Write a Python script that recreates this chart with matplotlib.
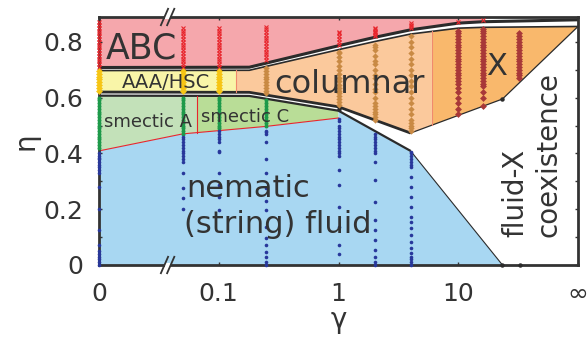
import numpy as np
import matplotlib.pyplot as plt

INF = np.inf

# ---- phase boundaries (gamma, eta) ----
upper_g = [0, 0.18, 1, 2, 4, 10, 16, INF]
upper_top = [0.708, 0.709, 0.786, 0.816, 0.843, 0.867, 0.872, 0.879]
upper_bot = [0.697, 0.698, 0.772, 0.801, 0.828, 0.849, 0.852, 0.855]

lowtop_g = [0, 0.18, 1, 4, 23.4, INF]
lowtop = [0.620, 0.619, 0.567, 0.473, 0.595, 0.855]

lowbot_g = [0, 0.18, 1, 4, 23.4]
lowbot = [0.607, 0.606, 0.553, 0.409, 0.0]

red_g = [0, 0.05, 0.25, 1]
red_eta = [0.409, 0.470, 0.497, 0.527]

g_aaa_col = 0.14
g_col_x = 6
g_sma_smc = 0.066
g_abc_end = 16
eta_top = 0.889

# ---- simulated state points, eta per gamma column ----
abc_pts = {
    0: [0.71, 0.72, 0.73, 0.74, 0.75, 0.76, 0.77, 0.78, 0.79, 0.80, 0.81, 0.82, 0.83, 0.84, 0.85, 0.86, 0.87],
    0.05: [0.71, 0.72, 0.73, 0.74, 0.75, 0.76, 0.77, 0.78, 0.79, 0.80, 0.81, 0.82, 0.83, 0.84, 0.85],
    0.1: [0.71, 0.72, 0.73, 0.74, 0.75, 0.76, 0.77, 0.78, 0.79, 0.80, 0.81, 0.82, 0.83, 0.84, 0.85],
    0.25: [0.735, 0.745, 0.755, 0.765, 0.775, 0.785, 0.795, 0.805, 0.815, 0.825, 0.835, 0.845, 0.853],
    1: [0.79, 0.80, 0.81, 0.82, 0.83, 0.835],
    2: [0.82, 0.825, 0.83, 0.835, 0.84, 0.845, 0.85],
    4: [0.849, 0.855, 0.862, 0.869],
    10: [0.872],
    16: [0.88],
}
aaa_pts = {
    0: [0.625, 0.635, 0.645, 0.655, 0.665, 0.675, 0.685, 0.695],
    0.05: [0.625, 0.635, 0.645, 0.655, 0.665, 0.675, 0.685, 0.695],
    0.1: [0.625, 0.635, 0.645, 0.655, 0.665, 0.675, 0.685, 0.695],
}
smectic_pts = {
    0: [0.42, 0.43, 0.44, 0.45, 0.46, 0.47, 0.48, 0.49, 0.50, 0.51, 0.52, 0.53, 0.54, 0.55, 0.56, 0.57, 0.58, 0.59, 0.60],
    0.05: [0.47, 0.48, 0.49, 0.50, 0.51, 0.52, 0.53, 0.54, 0.55, 0.56, 0.57, 0.58, 0.59, 0.60],
    0.1: [0.49, 0.50, 0.51, 0.52, 0.53, 0.54, 0.55, 0.56, 0.57, 0.58, 0.59, 0.60],
    0.25: [0.50, 0.51, 0.52, 0.53, 0.54, 0.55, 0.56, 0.57, 0.58, 0.59],
}
nematic_pts = {
    0: [0.40, 0.39, 0.385, 0.38, 0.37, 0.36, 0.35, 0.34, 0.33, 0.28, 0.20, 0.125, 0.07, 0.05, 0.04, 0.03, 0.02, 0.01, 0.0],
    0.05: [0.46, 0.45, 0.44, 0.43, 0.42, 0.41, 0.40, 0.39, 0.38, 0.37, 0.33, 0.275, 0.24, 0.20],
    0.1: [0.48, 0.47, 0.46, 0.45, 0.44, 0.41, 0.405, 0.33, 0.287, 0.244, 0.197],
    0.25: [0.48, 0.475, 0.47, 0.44, 0.38, 0.33, 0.275, 0.23, 0.197, 0.136, 0.097, 0.072, 0.047, 0.029, 0.011, 0.0],
    1: [0.525, 0.515, 0.50, 0.49, 0.48, 0.47, 0.46, 0.45, 0.44, 0.43, 0.42, 0.41, 0.40, 0.39, 0.34, 0.287, 0.208, 0.136, 0.072, 0.039],
    2: [0.47, 0.46, 0.45, 0.44, 0.43, 0.42, 0.41, 0.40, 0.37, 0.305, 0.226, 0.161, 0.125, 0.09, 0.054, 0.029, 0.011, 0.0],
    4: [0.405, 0.40, 0.39, 0.38, 0.37, 0.36, 0.35, 0.315, 0.28, 0.244, 0.208, 0.172, 0.154, 0.133, 0.108, 0.082,
        0.061, 0.043, 0.03, 0.02, 0.01, 0.0],
}
columnar_pts = {
    0.25: [0.615, 0.625, 0.635, 0.645, 0.655, 0.665, 0.675, 0.685, 0.695, 0.705],
    1: [0.575, 0.585, 0.595, 0.605, 0.615, 0.625, 0.635, 0.645, 0.66, 0.67, 0.685, 0.70, 0.715, 0.73, 0.745, 0.76, 0.765],
    2: [0.52, 0.53, 0.54, 0.55, 0.56, 0.57, 0.58, 0.60, 0.62, 0.63, 0.65, 0.67, 0.68, 0.70, 0.72, 0.73, 0.75, 0.77, 0.78, 0.79],
    4: [0.48, 0.49, 0.50, 0.51, 0.52, 0.54, 0.56, 0.58, 0.60, 0.62, 0.64, 0.66, 0.68, 0.70, 0.72, 0.74, 0.76, 0.78,
        0.80, 0.82],
}
x_pts = {
    10: [0.54, 0.56, 0.58, 0.60, 0.62, 0.635, 0.65, 0.66, 0.67, 0.68, 0.69, 0.70, 0.71, 0.72, 0.73, 0.74, 0.75,
         0.76, 0.77, 0.78, 0.79, 0.80, 0.81, 0.82, 0.83, 0.84],
    16: [0.57, 0.60, 0.62, 0.64, 0.65, 0.66, 0.67, 0.68, 0.69, 0.70, 0.71, 0.72, 0.73, 0.74, 0.75, 0.76, 0.77,
         0.78, 0.79, 0.80, 0.81, 0.82, 0.83, 0.84, 0.845],
    32: [0.67, 0.68, 0.69, 0.70, 0.71, 0.72, 0.73, 0.74, 0.75, 0.76, 0.77, 0.78, 0.79, 0.80, 0.81, 0.82, 0.83],
}
vertex_g = [23.4, 23.4, 33, 1]
vertex_eta = [0.595, 0.0, 0.0, 0.56]

xtick_g = [0, 0.1, 1, 10, INF]
xtick_labels = ['0', '0.1', '1', '10', '∞']
break_g = [0.0374, 3980]

TXT = '#333333'


def gpos(g):
    """gamma -> position on the broken log axis (0 at gamma=0, 4 at infinity)"""
    g = np.atleast_1d(np.asarray(g, dtype=float))
    u = np.zeros_like(g)
    ok = (g > 0) & np.isfinite(g)
    u[ok] = np.log10(g[ok]) + 2
    u[np.isinf(g)] = 4
    return u


def piece(bg, be, g0, g1):
    ub = gpos(bg)
    u0, u1 = gpos(g0)[0], gpos(g1)[0]
    inner = (ub > u0) & (ub < u1)
    us = np.concatenate([[u0], ub[inner], [u1]])
    return us, np.interp(us, ub, be)


def region(ax, top, bot, color):
    ut, et = top
    ub, eb = bot
    ax.fill(np.concatenate([ut, ub[::-1]]), np.concatenate([et, eb[::-1]]),
            color=color, lw=0, zorder=1)


fig = plt.figure(figsize=(5.88, 3.39), dpi=100)
ax = fig.add_axes([99 / 588, 74 / 339, 479 / 588, 248 / 339])

# phase regions
u0, uend = gpos(0)[0], gpos(g_abc_end)[0]
region(ax, (np.array([u0, uend]), np.array([eta_top, eta_top])),
       piece(upper_g, upper_top, 0, g_abc_end), '#f5a7ac')
region(ax, piece(upper_g, upper_bot, 0, g_aaa_col), piece(lowtop_g, lowtop, 0, g_aaa_col), '#f9f5a8')
region(ax, piece(upper_g, upper_bot, g_aaa_col, g_col_x), piece(lowtop_g, lowtop, g_aaa_col, g_col_x), '#fbc99c')
region(ax, piece(upper_g, upper_bot, g_col_x, INF), piece(lowtop_g, lowtop, g_col_x, INF), '#f9b86c')
region(ax, piece(lowbot_g, lowbot, 0, g_sma_smc), piece(red_g, red_eta, 0, g_sma_smc), '#c3e1b9')
region(ax, piece(lowbot_g, lowbot, g_sma_smc, 1), piece(red_g, red_eta, g_sma_smc, 1), '#b9dd97')
nem_u = np.concatenate([[0], gpos(red_g), gpos(lowbot_g[2:])])
nem_e = np.concatenate([[0], red_eta, lowbot[2:]])
ax.fill(nem_u, nem_e, color='#a8d7f2', lw=0, zorder=1)

# boundary lines
ax.plot(gpos(upper_g), upper_top, color='#2b2b2b', lw=2.2, zorder=2, solid_capstyle='butt')
ax.plot(gpos(upper_g), upper_bot, color='#2b2b2b', lw=1.2, zorder=2, solid_capstyle='butt')
ax.plot(gpos(lowtop_g[:4]), lowtop[:4], color='#2b2b2b', lw=2.0, zorder=2, solid_capstyle='butt')
ax.plot(gpos(lowtop_g[3:]), lowtop[3:], color='#2b2b2b', lw=0.9, zorder=2)
ax.plot(gpos(lowbot_g[:4]), lowbot[:4], color='#2b2b2b', lw=1.6, zorder=2, solid_capstyle='butt')
ax.plot(gpos(lowbot_g[3:]), lowbot[3:], color='#2b2b2b', lw=0.8, zorder=2)
ax.plot(gpos(red_g), red_eta, color='#e8262d', lw=0.8, zorder=2)
for g, b1, b2, c in [(g_aaa_col, (lowtop_g, lowtop), (upper_g, upper_bot), '#f08a6e'),
                     (g_col_x, (lowtop_g, lowtop), (upper_g, upper_bot), '#f08a6e'),
                     (g_sma_smc, (red_g, red_eta), (lowbot_g, lowbot), '#e8262d')]:
    u = gpos(g)[0]
    e1 = np.interp(u, gpos(b1[0]), b1[1])
    e2 = np.interp(u, gpos(b2[0]), b2[1])
    ax.plot([u, u], [e1, e2], color=c, lw=0.8, zorder=2)
ax.plot(gpos(vertex_g), vertex_eta, 'o', color='#2b2b2b', ms=2.2, zorder=6.5, clip_on=False)

# state points (drawn over the spines, like the reference)
styles = [
    (abc_pts, dict(marker='x', ms=3.0, mew=0.8, color='#e8262d')),
    (aaa_pts, dict(marker='D', ms=3.5, mew=0, color='#f6c514')),
    (smectic_pts, dict(marker='o', ms=2.9, mew=0, color='#1d9a4a')),
    (nematic_pts, dict(marker='o', ms=2.6, mew=0, color='#28379b')),
    (columnar_pts, dict(marker='D', ms=3.2, mew=0, color='#c98a44')),
    (x_pts, dict(marker='D', ms=3.5, mew=0, color='#a83838')),
]
for pts, st in styles:
    for g, etas in pts.items():
        ax.plot(np.full(len(etas), gpos(g)[0]), etas, ls='none', zorder=6.5, clip_on=False, **st)

# labels inside the diagram
kw = dict(color=TXT, va='baseline', zorder=9)
ax.text(0.06, 0.742, 'ABC', fontsize=25, **kw)
ax.text(0.19, 0.634, 'AAA/HSC', fontsize=14, **kw)
ax.text(0.04, 0.496, 'smectic A', fontsize=13, **kw)
ax.text(0.855, 0.512, 'smectic C', fontsize=13, **kw)
ax.text(1.46, 0.616, 'columnar', fontsize=23, **kw)
ax.text(3.32, 0.68, 'X', fontsize=22, ha='center', **kw)
ax.text(0.725, 0.244, 'nematic', fontsize=22, **kw)
ax.text(0.71, 0.116, '(string) fluid', fontsize=22, **kw)
ax.text(3.36, 0.10, 'fluid-X', fontsize=20, color=TXT, rotation=90, ha='left', va='bottom', zorder=9)
ax.text(3.64, 0.10, 'coexistence', fontsize=20, color=TXT, rotation=90, ha='left', va='bottom', zorder=9)

# axes
ax.set_xlim(0, 4)
ax.set_ylim(0, eta_top)
ax.set_xticks(gpos(xtick_g))
ax.set_xticklabels(xtick_labels)
ax.set_yticks([0, 0.2, 0.4, 0.6, 0.8])
ax.set_yticklabels(['0', '0.2', '0.4', '0.6', '0.8'])
ax.set_yticks([0.1, 0.3, 0.5, 0.7], minor=True)
ax.tick_params(which='both', direction='in', length=2.5, width=1, color=TXT,
               top=True, right=True, labelsize=18, labelcolor=TXT)
ax.tick_params(axis='x', pad=12)
ax.tick_params(axis='y', pad=11)
for s in ax.spines.values():
    s.set_color(TXT)
    s.set_linewidth(2)
    s.set_zorder(6)
ax.set_xlabel('γ', fontsize=20, color=TXT, labelpad=0)
ax.set_ylabel('η', fontsize=20, color=TXT, labelpad=3)

# axis breaks
tr = ax.get_xaxis_transform()
for u in gpos(break_g):
    for fy in (0, 1):
        ax.plot([u - 0.022, u + 0.022], [fy, fy], transform=tr, color='white', lw=3,
                clip_on=False, zorder=7, solid_capstyle='butt')
        for dx in (-0.026, 0.026):
            ax.plot([u + dx - 0.03, u + dx + 0.03], [fy - 0.033, fy + 0.033], transform=tr,
                    color=TXT, lw=1.3, clip_on=False, zorder=8)

fig.savefig('out.png', dpi=100)
